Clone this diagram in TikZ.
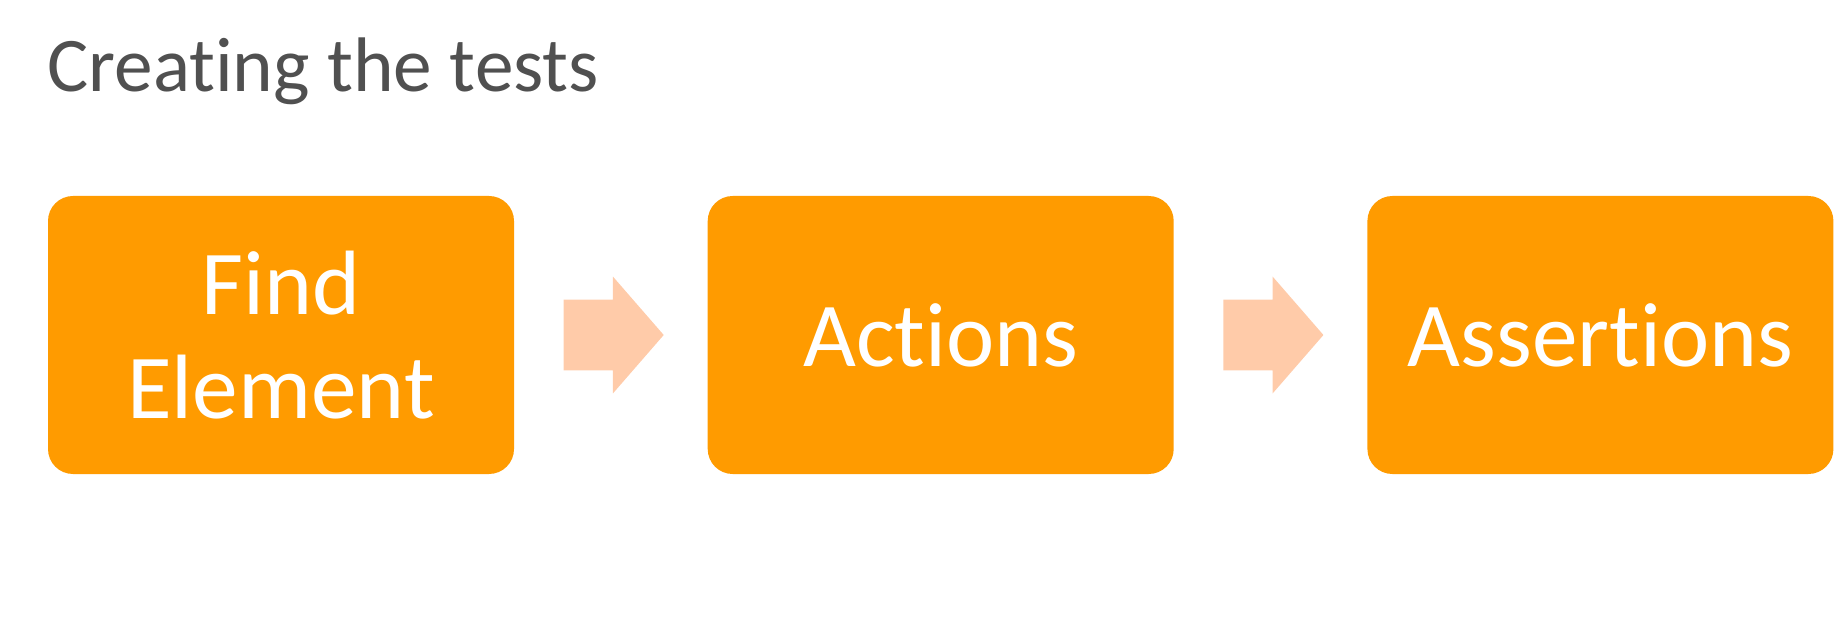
\documentclass[tikz,border=0pt]{standalone}
\usepackage{fontspec}
\setmainfont{Carlito}[Ligatures=NoCommon]
\usetikzlibrary{positioning,shapes.arrows}
\definecolor{stepfill}{HTML}{FF9B00}
\definecolor{flowfill}{HTML}{FFCBA9}
\definecolor{titlegray}{HTML}{505050}

\begin{document}
\begin{tikzpicture}[
  stage/.style={fill=stepfill, rounded corners=5mm, minimum width=93.2mm, minimum height=55.6mm,
    text=white, align=center, font=\fontsize{52}{59}\selectfont, inner sep=0pt},
  flow/.style={single arrow, fill=flowfill, minimum height=20mm, inner xsep=0pt, inner ysep=7mm,
    single arrow head extend=4.6mm, single arrow tip angle=98}
]
  \useasboundingbox (0,0) rectangle (36.92,-12.48);
  % title
  \node[anchor=base west, inner sep=0pt, text=titlegray, font=\fontsize{44}{50}\selectfont] (title) at (0.94,-1.84) {Creating the tests};
  % the three steps
  \node[stage] (find) at (5.62,-6.70) {Find\\Element};
  \node[flow, right=9.8mm of find] (arrA) {};
  \node[stage, right=38.6mm of find] (actions) {Actions};
  \node[flow, right=9.8mm of actions] (arrB) {};
  \node[stage, right=38.6mm of actions] (assert) {Assertions};
\end{tikzpicture}
\end{document}
